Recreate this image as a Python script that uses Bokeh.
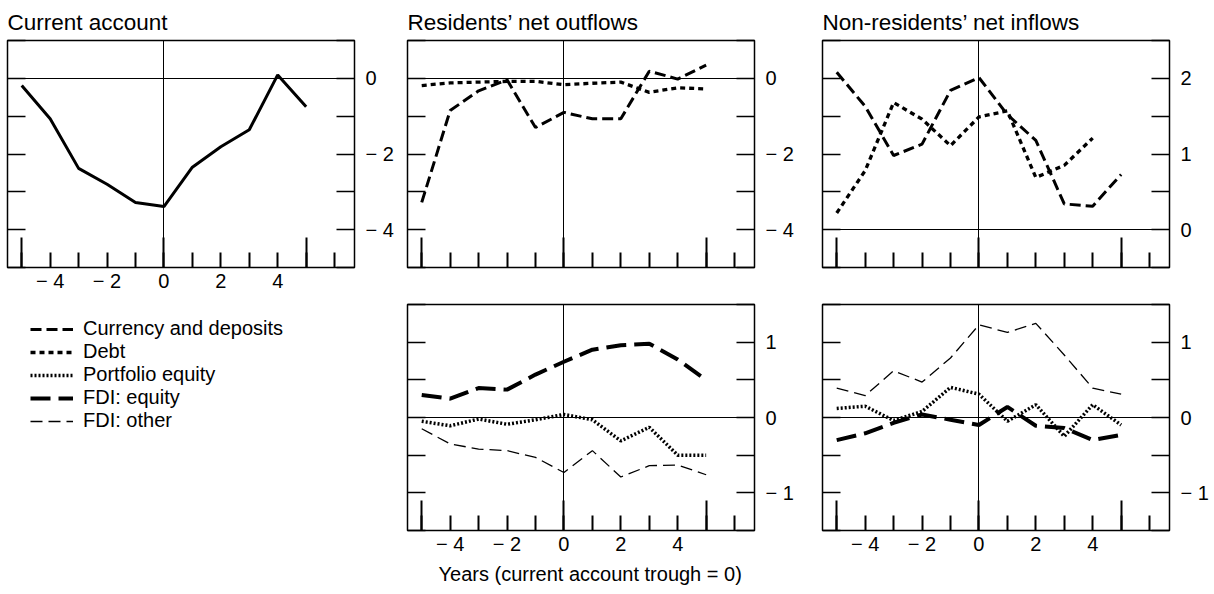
from bokeh.plotting import figure
from bokeh.models import LinearAxis, FixedTicker, Legend, LegendItem, Range1d, ColumnDataSource, Title
from bokeh.layouts import column, row
from bokeh.embed import file_html
from bokeh.resources import INLINE

FONT = "Liberation Sans"
MINUS = "\u2212"

# ---------------- data ----------------
years = [-5, -4, -3, -2, -1, 0, 1, 2, 3, 4, 5]
current_account = [-0.19, -1.07, -2.38, -2.80, -3.28, -3.39, -2.35, -1.81, -1.36, 0.09, -0.75]

res_currency = [-3.28, -0.85, -0.33, -0.04, -1.30, -0.90, -1.07, -1.07, 0.19, -0.02, 0.35]
res_debt = [-0.19, -0.12, -0.10, -0.08, -0.08, -0.17, -0.13, -0.10, -0.37, -0.25, -0.28]

nonres_currency = [2.08, 1.63, 0.98, 1.13, 1.84, 2.01, 1.52, 1.18, 0.34, 0.31, 0.73]
nonres_debt_years = [-5, -4, -3, -2, -1, 0, 1, 2, 3, 4]
nonres_debt = [0.22, 0.78, 1.68, 1.46, 1.11, 1.49, 1.57, 0.69, 0.85, 1.21]

res_fdi_equity = [0.30, 0.25, 0.39, 0.37, 0.57, 0.74, 0.90, 0.96, 0.98, 0.77, 0.50]
res_portfolio = [-0.05, -0.11, -0.02, -0.09, -0.03, 0.04, -0.03, -0.31, -0.13, -0.50, -0.50]
res_fdi_other = [-0.15, -0.35, -0.42, -0.44, -0.53, -0.73, -0.44, -0.79, -0.64, -0.63, -0.76]

nonres_fdi_other = [0.39, 0.29, 0.62, 0.47, 0.79, 1.23, 1.13, 1.25, 0.83, 0.39, 0.31]
nonres_portfolio = [0.12, 0.15, -0.04, 0.08, 0.40, 0.31, -0.05, 0.17, -0.25, 0.17, -0.10]
nonres_fdi_equity = [-0.30, -0.21, -0.07, 0.04, -0.03, -0.10, 0.14, -0.11, -0.14, -0.30, -0.23]

titles = ["Current account", "Residents\u2019 net outflows", "Non-residents\u2019 net inflows"]
legend_labels = ["Currency and deposits", "Debt", "Portfolio equity", "FDI: equity", "FDI: other"]
x_axis_title = "Years (current account trough = 0)"

# ---------------- styles ----------------
STYLE = {
    "ca": dict(line_color="black", line_width=3),
    "cd": dict(line_color="black", line_width=3, line_dash="11 5"),
    "debt": dict(line_color="black", line_width=3.3, line_dash="5 4"),
    "port": dict(line_color="black", line_width=3.5, line_dash="2 2"),
    "fdi_eq": dict(line_color="black", line_width=4, line_dash="20 8"),
    "fdi_oth": dict(line_color="black", line_width=1.3, line_dash="12 6"),
}

X_RANGE = (-5.5, 6.7)
X_TICKS = list(range(-5, 7))
X_LONG = [-5, 0, 5]


def fmt(v):
    if v == 0:
        return "0"
    s = f"{abs(v):g}"
    return (MINUS + " " + s) if v < 0 else s


def panel(title, yr, ystep, ylab_step, width, lb, rb, height, tb, bb, xlabels):
    p = figure(width=width, height=height, x_range=Range1d(*X_RANGE), y_range=Range1d(*yr),
               y_axis_location="right", toolbar_location=None, output_backend="svg",
               title=title, min_border_left=lb, min_border_right=rb,
               min_border_top=tb, min_border_bottom=bb)
    p.background_fill_color = "white"
    p.border_fill_color = "white"
    p.outline_line_color = "black"
    p.outline_line_width = 1.5
    if title:
        p.title.text_font = FONT
        p.title.text_font_size = "22.5px"
        p.title.text_font_style = "normal"
        p.title.text_color = "black"
        p.title.align = "left"
        p.title.standoff = 12
        p.title.offset = 0

    n = int(round((yr[1] - yr[0]) / ystep))
    yt = [round(yr[0] + i * ystep, 6) for i in range(n + 1)]
    ylabels = {}
    for v in yt:
        k = v / ylab_step
        ylabels[v] = fmt(v) if (abs(k - round(k)) < 1e-9 and yr[0] < v < yr[1]) else ""

    ra = p.yaxis[0]
    ra.ticker = FixedTicker(ticks=yt)
    ra.major_label_overrides = ylabels
    ra.major_tick_in = 18
    ra.major_tick_out = 0
    ra.major_tick_line_width = 1.5
    ra.minor_tick_line_color = None
    ra.axis_line_color = None
    ra.major_label_standoff = 11
    ra.major_label_text_font = FONT
    ra.major_label_text_font_size = "20px"
    ra.major_label_text_color = "black"

    la = LinearAxis(ticker=FixedTicker(ticks=yt), major_label_overrides={v: "" for v in yt},
                    major_label_text_font_size="0px", major_label_standoff=0,
                    major_tick_in=18, major_tick_out=0, major_tick_line_width=1.5,
                    minor_tick_line_color=None, axis_line_color=None)
    p.add_layout(la, "left")

    xa = p.xaxis[0]
    xa.ticker = FixedTicker(ticks=X_TICKS, minor_ticks=X_LONG)
    xa.major_tick_in = 15
    xa.major_tick_out = 0
    xa.minor_tick_in = 30
    xa.minor_tick_out = 0
    xa.major_tick_line_width = 2
    xa.minor_tick_line_width = 2
    xa.axis_line_color = None
    xa.major_label_standoff = 2
    xa.major_label_text_font = FONT
    xa.major_label_text_font_size = "20px" if xlabels else "0px"
    xa.major_label_text_color = "black"
    xa.major_label_overrides = {t: (fmt(t) if (xlabels and t % 2 == 0 and -5 < t < 5) else "") for t in X_TICKS}

    p.xgrid.ticker = FixedTicker(ticks=[0])
    p.ygrid.ticker = FixedTicker(ticks=[0])
    p.xgrid.grid_line_color = "black"
    p.ygrid.grid_line_color = "black"
    p.xgrid.grid_line_width = 1
    p.ygrid.grid_line_width = 1
    return p


TOP_H, TOP_T, TOP_B = 297, 40, 30
BOT_H, BOT_T, BOT_B = 293, 7, 60

p1 = panel(titles[0], (-5, 1), 1, 2, 402, 7, 48, TOP_H, TOP_T, TOP_B, True)
p2 = panel(titles[1], (-5, 1), 1, 2, 415, 5, 63, TOP_H, TOP_T, TOP_B, False)
p3 = panel(titles[2], (-0.5, 2.5), 0.5, 1, 396, 5, 44, TOP_H, TOP_T, TOP_B, False)
p5 = panel(None, (-1.5, 1.5), 0.5, 1, 415, 5, 63, BOT_H, BOT_T, BOT_B, True)
p6 = panel(None, (-1.5, 1.5), 0.5, 1, 396, 5, 44, BOT_H, BOT_T, BOT_B, True)

p5.add_layout(Title(text=x_axis_title, align="left", offset=31, standoff=6,
                    text_font=FONT, text_font_size="20px", text_font_style="normal",
                    text_color="black"), "below")

p1.line(years, current_account, **STYLE["ca"])

p2.line(years, res_currency, **STYLE["cd"])
p2.line(years, res_debt, **STYLE["debt"])

p3.line(years, nonres_currency, **STYLE["cd"])
p3.line(nonres_debt_years, nonres_debt, **STYLE["debt"])

p5.line(years, res_fdi_other, **STYLE["fdi_oth"])
p5.line(years, res_portfolio, **STYLE["port"])
p5.line(years, res_fdi_equity, **STYLE["fdi_eq"])

p6.line(years, nonres_fdi_other, **STYLE["fdi_oth"])
p6.line(years, nonres_portfolio, **STYLE["port"])
p6.line(years, nonres_fdi_equity, **STYLE["fdi_eq"])

# legend panel (renderers carry no visible data; they only supply the legend glyphs)
p4 = figure(width=402, height=BOT_H, x_range=Range1d(0, 1), y_range=Range1d(0, 1),
            x_axis_location=None, y_axis_location=None, toolbar_location=None,
            output_backend="svg", min_border_left=17, min_border_right=0,
            min_border_top=0, min_border_bottom=0)
p4.outline_line_color = None
p4.grid.visible = False
nan = float("nan")
empty = ColumnDataSource(data=dict(x=[nan], y=[nan]))
items = []
for lab, key in zip(legend_labels, ["cd", "debt", "port", "fdi_eq", "fdi_oth"]):
    r = p4.line("x", "y", source=empty, **STYLE[key])
    items.append(LegendItem(label=lab, renderers=[r]))
leg = Legend(items=items, location="top_left", margin=13, padding=0, spacing=0,
             glyph_width=43, glyph_height=20, label_height=20, label_standoff=10,
             label_text_font=FONT, label_text_font_size="20px", label_text_color="black",
             border_line_color=None, background_fill_alpha=0)
p4.add_layout(leg)

layout = column(row(p1, p2, p3), row(p4, p5, p6))
open("out.html", "w").write(file_html(layout, INLINE))
